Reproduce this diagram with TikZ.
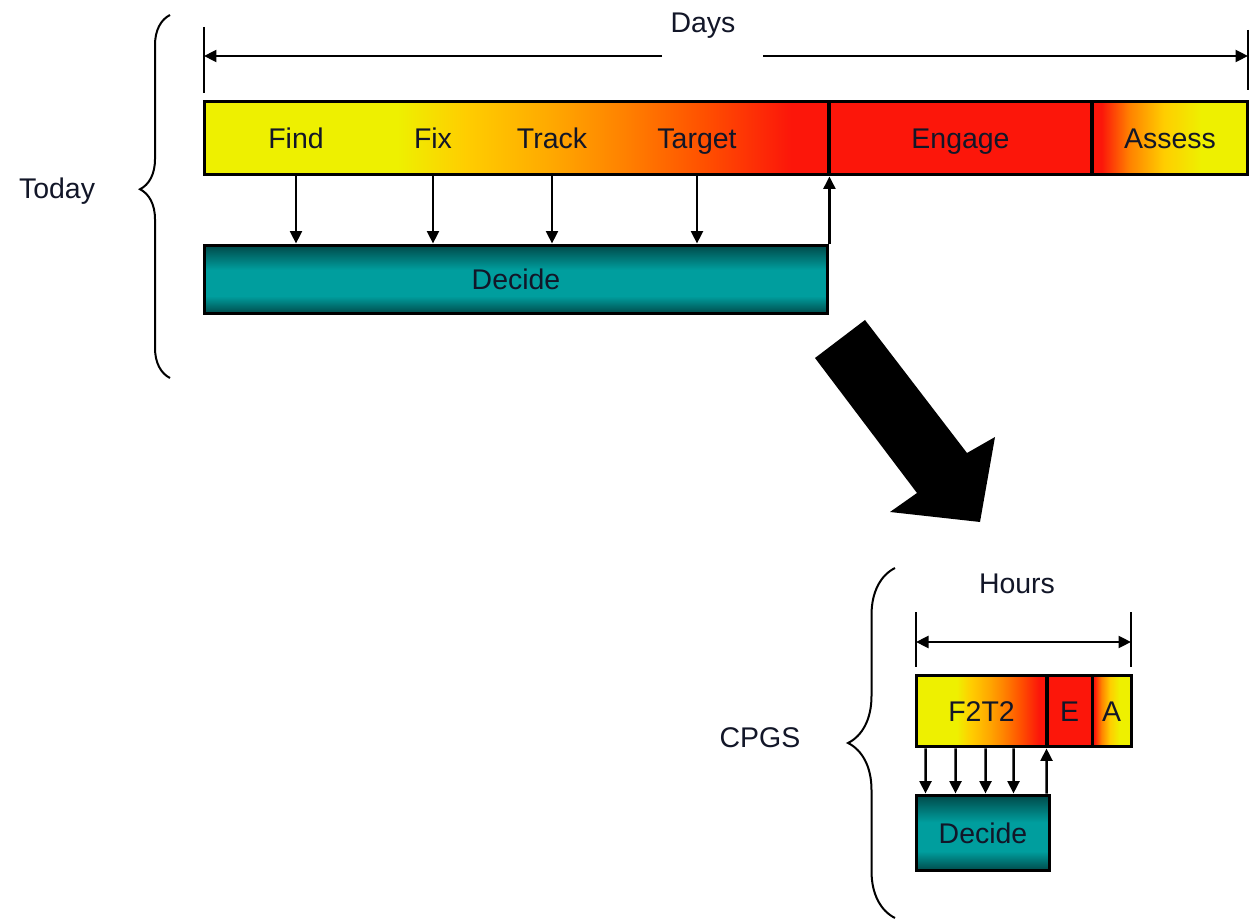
\documentclass[tikz,border=0pt]{standalone}
\usepackage{fontspec}
\setmainfont{Liberation Sans}
\usepackage{tikz}
\usetikzlibrary{calc, positioning}
\usetikzlibrary{arrows.meta, decorations.pathreplacing}

\definecolor{fyellow}{RGB}{238,240,0}
\definecolor{fgold}{RGB}{255,205,0}
\definecolor{famber}{RGB}{255,170,0}
\definecolor{forange}{RGB}{255,130,0}
\definecolor{fredor}{RGB}{255,80,0}
\definecolor{fred}{RGB}{252,22,10}
\definecolor{tealmid}{RGB}{0,158,158}
\definecolor{tealdark}{RGB}{0,72,72}
\definecolor{inkblue}{RGB}{18,22,40}

\pgfdeclarehorizontalshading{fixtrack}{100bp}{color(0bp)=(fyellow); color(40.5bp)=(fyellow); color(46bp)=(fgold); color(52.5bp)=(famber); color(58.5bp)=(forange); color(65bp)=(fredor); color(72bp)=(fred); color(100bp)=(fred)}
\pgfdeclarehorizontalshading{assessgrad}{100bp}{color(0bp)=(fred); color(28bp)=(fred); color(37bp)=(forange); color(48bp)=(fgold); color(60bp)=(fyellow); color(100bp)=(fyellow)}
\pgfdeclareverticalshading{decideteal}{100bp}{color(0bp)=(tealdark); color(25bp)=(tealdark); color(38bp)=(tealmid); color(57bp)=(tealmid); color(75bp)=(tealdark); color(100bp)=(tealdark)}

\begin{document}
\begin{tikzpicture}[x=0.02cm, y=-0.02cm,
		every node/.style={font=\fontsize{16.2}{19}\selectfont, text=inkblue, text height=0.41cm, text depth=0cm},
		phase/.style={draw, line width=0.06cm, inner sep=0pt},
		fftt/.style={phase, shade, shading=fixtrack},
		engage/.style={phase, fill=fred},
		assess/.style={phase, shade, shading=assessgrad},
		decide/.style={phase, shade, shading=decideteal},
		flow/.style={->, line width=0.05cm},
		dim/.style={->, line width=0.05cm},
		tick/.style={line width=0.05cm},
		brc/.style={decorate, line width=0.04cm},
		>={Triangle[length=0.25cm, width=0.24cm]}
		]
	\useasboundingbox (0,0) rectangle (1252,922);

	% --- Today (top) ---
	\node[fftt, minimum width=12.5cm, minimum height=1.48cm] (ftt) at (516.5,138) {};
	\node[engage, minimum width=5.26cm, minimum height=1.48cm] (eng) at (960.5,138) {Engage};
	\node[assess, minimum width=3.12cm, minimum height=1.48cm] (ass) at (1170,138) {Assess};
	\node (find) at (296,138) {Find};
	\node (fix) at (433,138) {Fix};
	\node (track) at (552,138) {Track};
	\node (target) at (697,138) {Target};
	\node[decide, minimum width=12.48cm, minimum height=1.38cm] (dec) at (516,279.5) {Decide};

	\foreach \lbl in {find, fix, track, target}
		\draw[flow] (\lbl |- ftt.south) -- (\lbl |- dec.north);
	\draw[flow] (dec.north east) -- (dec.north east |- ftt.south);

	% days span
	\node (days) at (703,22) {Days};
	\coordinate (dl) at (204,56);
	\coordinate (dr) at (1248,56);
	\coordinate (dgl) at (662,56);
	\coordinate (dgr) at (763,56);
	\draw[dim] (dgl) -- (dl);
	\draw[dim] (dgr) -- (dr);
	\draw[tick] (204,27) -- (204,93);
	\draw[tick] (1248,30) -- (1248,90);

	\node (today) at (57,188) {Today};
	\draw[brc, decoration={brace, amplitude=0.6cm, aspect=0.52}] (170,378) -- (170,15);

	% --- big arrow ---
	\fill (815,358) -- (865,320) -- (967,453) -- (995,437) -- (980,522) -- (890,512) -- (917,493) -- cycle;

	% --- CPGS (bottom) ---
	\node[fftt, minimum width=2.62cm, minimum height=1.44cm] (f2t2) at (981.5,711) {F2T2};
	\node[engage, minimum width=0.9cm, minimum height=1.44cm] (e) at (1069.5,711) {E};
	\node[assess, minimum width=0.78cm, minimum height=1.44cm] (a) at (1111.5,711) {A};
	\node[decide, minimum width=2.68cm, minimum height=1.52cm] (dec2) at (983,833) {Decide};

	\foreach \dx in {11,41,71,99}
		\draw[flow] ($(f2t2.south west)+(\dx,0)$) -- ($(dec2.north west)+(\dx,0)$);
	\draw[flow] ($(dec2.north west)+(132,0)$) -- ($(f2t2.south west)+(132,0)$);

	% hours span
	\node (hours) at (1017,583) {Hours};
	\coordinate (hl) at (916,642);
	\coordinate (hr) at (1131,642);
	\draw[dim, <->] (hl) -- (hr);
	\draw[tick] (916,612) -- (916,667);
	\draw[tick] (1131,612) -- (1131,667);

	\node (cpgs) at (760,737) {CPGS};
	\draw[brc, decoration={brace, amplitude=0.94cm}] (895,918) -- (895,568);

\end{tikzpicture}
\end{document}
